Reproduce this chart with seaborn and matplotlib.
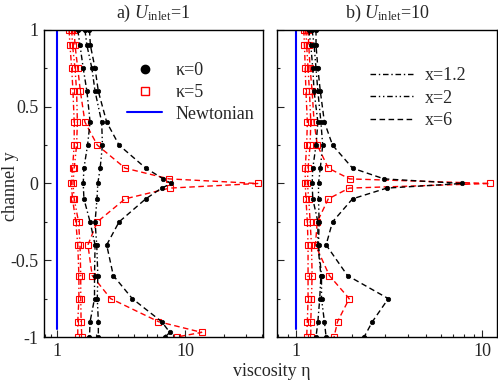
import numpy as np
import pandas as pd
import seaborn as sns
import matplotlib
matplotlib.use("Agg")
import matplotlib.pyplot as plt
from matplotlib.lines import Line2D
from matplotlib.ticker import LogLocator, NullFormatter, FixedLocator

# channel positions where the profiles were sampled
y_coarse = [1, 0.9, 0.75, 0.6, 0.4, 0.25, 0.1, 0, -0.1, -0.25, -0.4, -0.6, -0.75, -0.9, -1]
y_center = [1, 0.9, 0.75, 0.6, 0.4, 0.25, 0.1, 0.03, 0, -0.03, -0.1, -0.25, -0.4, -0.6, -0.75, -0.9, -1]
y_wall = [1, 0.9, 0.75, 0.6, 0.4, 0.25, 0.1, 0.03, 0, -0.03, -0.1, -0.25, -0.4, -0.6, -0.75, -0.9, -0.97, -1]

# panel a) U_inlet = 1
a_k0_x12 = [1.45, 1.51, 1.60, 1.71, 1.81, 1.73, 1.62, 1.60, 1.62, 1.81, 1.98, 1.96, 1.96, 1.81, 1.79]
a_k0_x2 = [1.65, 1.71, 1.87, 1.98, 2.23, 2.26, 2.17, 2.08, 2.05, 1.98, 2.04, 2.08, 2.06, 2.10, 2.10]
a_k0_x6 = [1.79, 1.82, 1.98, 2.10, 2.44, 3.05, 4.93, 6.77, 7.8, 6.56, 4.93, 3.05, 2.44, 2.75, 3.87, 6.56, 7.6, 6.97]
a_k5_x12 = [1.24, 1.26, 1.30, 1.33, 1.36, 1.36, 1.32, 1.29, 1.32, 1.40, 1.45, 1.48, 1.48, 1.45, 1.45]
a_k5_x2 = [1.30, 1.32, 1.38, 1.42, 1.44, 1.42, 1.36, 1.33, 1.36, 1.47, 1.51, 1.53, 1.53, 1.54, 1.56]
a_k5_x6 = [1.36, 1.38, 1.45, 1.52, 1.65, 2.06, 3.4, 7.5, 37.0, 7.6, 3.4, 2.06, 1.74, 1.88, 2.62, 6.2, 13.5, 8.6]

# panel b) U_inlet = 10
b_k0_x12 = [1.17, 1.20, 1.23, 1.25, 1.31, 1.28, 1.23, 1.22, 1.23, 1.31, 1.31, 1.36, 1.34, 1.31, 1.28]
b_k0_x2 = [1.22, 1.25, 1.28, 1.31, 1.36, 1.39, 1.35, 1.32, 1.32, 1.33, 1.32, 1.37, 1.37, 1.42, 1.45]
b_k0_x6 = [1.28, 1.28, 1.31, 1.35, 1.42, 1.57, 2.01, 2.97, 7.8, 3.07, 2.01, 1.57, 1.45, 1.89, 3.13, 2.57, 2.32]
b_k5_x12 = [1.10, 1.11, 1.12, 1.13, 1.15, 1.14, 1.12, 1.12, 1.13, 1.15, 1.16, 1.16, 1.16, 1.15, 1.14]
b_k5_x2 = [1.13, 1.14, 1.16, 1.18, 1.20, 1.19, 1.16, 1.15, 1.17, 1.19, 1.21, 1.22, 1.21, 1.20, 1.20]
b_k5_x6 = [1.16, 1.17, 1.19, 1.22, 1.25, 1.30, 1.49, 1.94, 11.0, 1.93, 1.49, 1.30, 1.27, 1.51, 1.93, 1.67, 1.60]

# newtonian reference
newton_eta = [1, 1]
newton_y = [-0.95, 1]

sns.set_style("ticks")
plt.rcParams["font.family"] = ["Liberation Serif", "DejaVu Serif"]
plt.rcParams["mathtext.fontset"] = "custom"
plt.rcParams["mathtext.rm"] = "Liberation Serif"
plt.rcParams["mathtext.it"] = "Liberation Serif:italic"
plt.rcParams["axes.unicode_minus"] = False
plt.rcParams["font.size"] = 13
plt.rcParams["xtick.direction"] = "in"
plt.rcParams["ytick.direction"] = "in"

styles = {"1.2": (0, (4, 2, 1, 2)), "2": (0, (4, 2, 1, 2, 1, 2)), "6": (0, (4, 2.5))}


def draw_curve(ax, eta, y, kappa, xpos):
    df = pd.DataFrame({"eta": eta, "y": y})
    if kappa == 0:
        mk = dict(marker="o", markersize=3.2, markerfacecolor="black",
                  markeredgecolor="black", markeredgewidth=0.5, color="black")
    else:
        mk = dict(marker="s", markersize=3.8, markerfacecolor="none",
                  markeredgecolor="red", markeredgewidth=0.8, color="red")
    sns.lineplot(data=df, x="eta", y="y", sort=False, estimator=None, ax=ax,
                 linewidth=1.0, linestyle=styles[xpos], **mk)


fig = plt.figure(figsize=(4.98, 3.82), dpi=100)
ax_a = fig.add_axes([0.0884, 0.1178, 0.4398, 0.8037])
ax_b = fig.add_axes([0.5562, 0.1178, 0.4418, 0.8037])

for ax in (ax_a, ax_b):
    sns.lineplot(x=newton_eta, y=newton_y, sort=False, estimator=None, ax=ax,
                 color="blue", linewidth=1.5)

draw_curve(ax_a, a_k5_x12, y_coarse, 5, "1.2")
draw_curve(ax_a, a_k5_x2, y_coarse, 5, "2")
draw_curve(ax_a, a_k5_x6, y_wall, 5, "6")
draw_curve(ax_a, a_k0_x12, y_coarse, 0, "1.2")
draw_curve(ax_a, a_k0_x2, y_coarse, 0, "2")
draw_curve(ax_a, a_k0_x6, y_wall, 0, "6")

draw_curve(ax_b, b_k5_x12, y_coarse, 5, "1.2")
draw_curve(ax_b, b_k5_x2, y_coarse, 5, "2")
draw_curve(ax_b, b_k5_x6, y_center, 5, "6")
draw_curve(ax_b, b_k0_x12, y_coarse, 0, "1.2")
draw_curve(ax_b, b_k0_x2, y_coarse, 0, "2")
draw_curve(ax_b, b_k0_x6, y_center, 0, "6")

for ax, xmax in ((ax_a, 40.7), (ax_b, 12.0)):
    ax.set_xscale("log")
    ax.set_xlim(0.79, xmax)
    ax.set_ylim(-1, 1)
    ax.xaxis.set_major_locator(FixedLocator([1, 10]))
    ax.set_xticklabels(["1", "10"])
    ax.xaxis.set_minor_locator(LogLocator(base=10, subs=np.arange(2, 10), numticks=20))
    ax.xaxis.set_minor_formatter(NullFormatter())
    ax.set_yticks([-1, -0.5, 0, 0.5, 1])
    ax.set_yticks([-0.75, -0.25, 0.25, 0.75], minor=True)
    ax.tick_params(which="major", length=5, width=0.8, labelsize=13, pad=4)
    ax.tick_params(which="minor", length=2.5, width=0.8)
    for sp in ax.spines.values():
        sp.set_linewidth(1.0)
        sp.set_color("black")
    ax.set_xlabel("")
    ax.set_ylabel("")

ax_a.set_yticklabels(["-1", "-0.5", "0", "0.5", "1"])
ax_b.set_yticklabels([])
ax_a.set_ylabel("channel y", fontsize=13)
ax_a.yaxis.set_label_coords(-0.115, 0.49)

ax_a.set_title(r"a) $U_{\mathrm{inlet}}$=1", fontsize=13, pad=9)
ax_b.set_title(r"b) $U_{\mathrm{inlet}}$=10", fontsize=13, pad=9)
fig.text(0.546, 0.004, "viscosity η", ha="center", va="bottom", fontsize=13)

kappa_handles = [
    Line2D([], [], linestyle="none", marker="o", markersize=6, color="black"),
    Line2D([], [], linestyle="none", marker="s", markersize=6, markerfacecolor="none",
           markeredgecolor="red", markeredgewidth=1.0),
    Line2D([], [], color="blue", linewidth=1.5),
]
ax_a.legend(kappa_handles, ["κ=0", "κ=5", "Newtonian"], loc="upper left",
            bbox_to_anchor=(0.379, 0.895), frameon=False, borderpad=0, borderaxespad=0,
            handlelength=1.95, handletextpad=0.72, labelspacing=0.26, fontsize=13)

x_handles = [Line2D([], [], color="black", linewidth=1.0, linestyle=styles[k]) for k in ("1.2", "2", "6")]
ax_b.legend(x_handles, ["x=1.2", "x=2", "x=6"], loc="upper left",
            bbox_to_anchor=(0.423, 0.878), frameon=False, borderpad=0, borderaxespad=0,
            handlelength=2.4, handletextpad=0.66, labelspacing=0.29, fontsize=13)

fig.savefig("out.png", dpi=100)
